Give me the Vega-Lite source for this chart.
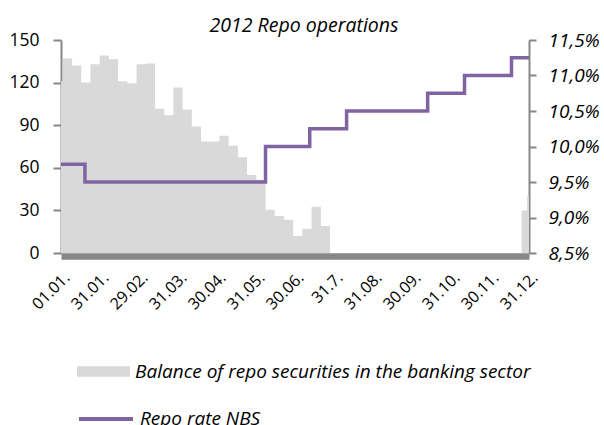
{
  "$schema": "https://vega.github.io/schema/vega-lite/v6.json",
  "width": 468,
  "height": 213,
  "autosize": {"type": "none"},
  "padding": {"left": 61, "top": 40, "right": 75, "bottom": 172},
  "background": "white",
  "config": {
    "view": {"stroke": null},
    "font": "Open Sans",
    "axis": {"grid": false, "title": null, "labelColor": "#000000", "labelFont": "Open Sans"}
  },
  "title": {
    "text": "2012 Repo operations",
    "font": "Open Sans",
    "fontSize": 19.5,
    "fontStyle": "italic",
    "fontWeight": "normal",
    "color": "#000000",
    "anchor": "middle",
    "dx": 9,
    "dy": 13,
    "offset": 8
  },
  "datasets": {
    "balance": [
      {"t": 0, "balance": 121},
      {"t": 1, "balance": 137},
      {"t": 6, "balance": 132},
      {"t": 11, "balance": 120},
      {"t": 16, "balance": 133},
      {"t": 21, "balance": 139},
      {"t": 26, "balance": 136.5},
      {"t": 31, "balance": 121},
      {"t": 36, "balance": 119.5},
      {"t": 41, "balance": 133},
      {"t": 46, "balance": 133.5},
      {"t": 51, "balance": 101.5},
      {"t": 56, "balance": 97},
      {"t": 61, "balance": 116.5},
      {"t": 66, "balance": 101},
      {"t": 71, "balance": 89},
      {"t": 76, "balance": 78.5},
      {"t": 81, "balance": 78.5},
      {"t": 86, "balance": 82.5},
      {"t": 91, "balance": 75.5},
      {"t": 96, "balance": 67.5},
      {"t": 101, "balance": 55},
      {"t": 106, "balance": 51.5},
      {"t": 111, "balance": 30.5},
      {"t": 116, "balance": 26},
      {"t": 121, "balance": 23.5},
      {"t": 126, "balance": 12},
      {"t": 131, "balance": 17},
      {"t": 136, "balance": 32.5},
      {"t": 141, "balance": 19},
      {"t": 146, "balance": 0},
      {"t": 250, "balance": 30},
      {"t": 253, "balance": 40},
      {"t": 254, "balance": 40}
    ],
    "rate": [
      {"t": 0, "rate": 9.75},
      {"t": 13, "rate": 9.5},
      {"t": 111, "rate": 10.0},
      {"t": 135, "rate": 10.25},
      {"t": 155, "rate": 10.5},
      {"t": 199, "rate": 10.75},
      {"t": 219, "rate": 11.0},
      {"t": 244.5, "rate": 11.25},
      {"t": 254, "rate": 11.25}
    ]
  },
  "encoding": {
    "x": {
      "field": "t",
      "type": "quantitative",
      "scale": {"domain": [0, 254], "nice": false, "zero": false},
      "axis": {
        "orient": "bottom",
        "values": [0, 21.1667, 42.3333, 63.5, 84.6667, 105.8333, 127, 148.1667, 169.3333, 190.5, 211.6667, 232.8333, 254],
        "labelExpr": "['01.01.','31.01.','29.02.','31.03.','30.04.','31.05.','30.06.','31.7.','31.08.','30.09.','31.10.','30.11.','31.12.'][round(datum.value/21.1667)]",
        "labelAngle": -45,
        "labelFontSize": 16,
        "labelPadding": 13,
        "labelOverlap": false,
        "labelBound": false,
        "labelFlush": false,
        "ticks": false,
        "domainColor": "#878787",
        "domainWidth": 6.5,
        "offset": 3
      }
    }
  },
  "layer": [
    {
      "data": {"name": "balance"},
      "mark": {"type": "area", "interpolate": "step-after"},
      "encoding": {
        "y": {
          "field": "balance",
          "type": "quantitative",
          "scale": {"domain": [0, 150], "nice": false},
          "axis": {
            "orient": "left",
            "values": [0, 30, 60, 90, 120, 150],
            "labelFontSize": 17.5,
            "labelPadding": 14,
            "tickSize": 8,
            "tickWidth": 2,
            "tickColor": "#868686",
            "domainColor": "#868686",
            "domainWidth": 2
          }
        },
        "fill": {
          "datum": "Balance of repo securities in the banking sector",
          "type": "nominal",
          "scale": {"range": ["#d9d9d9"]},
          "legend": {
            "title": null,
            "orient": "none",
            "legendX": 16,
            "legendY": 305,
            "padding": 0,
            "symbolType": "M-1,-0.2H1V0.2H-1Z",
            "symbolSize": 2809,
            "symbolStrokeWidth": 0,
            "symbolOpacity": 1,
            "labelFont": "Open Sans",
            "labelFontSize": 19,
            "labelFontStyle": "italic",
            "labelColor": "#000000",
            "labelOffset": 5,
            "labelLimit": 600
          }
        }
      }
    },
    {
      "data": {"name": "rate"},
      "mark": {"type": "line", "interpolate": "step-after", "strokeWidth": 3.5},
      "encoding": {
        "y": {
          "field": "rate",
          "type": "quantitative",
          "scale": {"domain": [8.5, 11.5], "nice": false, "zero": false},
          "axis": {
            "orient": "right",
            "values": [8.5, 9, 9.5, 10, 10.5, 11, 11.5],
            "labelExpr": "replace(format(datum.value, '.1f'), '.', ',') + '%'",
            "labelFontSize": 19,
            "labelFontStyle": "italic",
            "labelPadding": 12,
            "tickSize": 7,
            "tickWidth": 2,
            "tickColor": "#868686",
            "domainColor": "#868686",
            "domainWidth": 2
          }
        },
        "stroke": {
          "datum": "Repo rate NBS",
          "type": "nominal",
          "scale": {"range": ["#8064a2"]},
          "legend": {
            "title": null,
            "orient": "none",
            "legendX": 16,
            "legendY": 350,
            "padding": 0,
            "symbolType": "stroke",
            "symbolSize": 2916,
            "symbolStrokeWidth": 4,
            "labelFont": "Open Sans",
            "labelFontSize": 19,
            "labelFontStyle": "italic",
            "labelColor": "#000000",
            "labelOffset": 5,
            "labelLimit": 600
          }
        }
      }
    }
  ],
  "resolve": {"scale": {"y": "independent"}}
}
